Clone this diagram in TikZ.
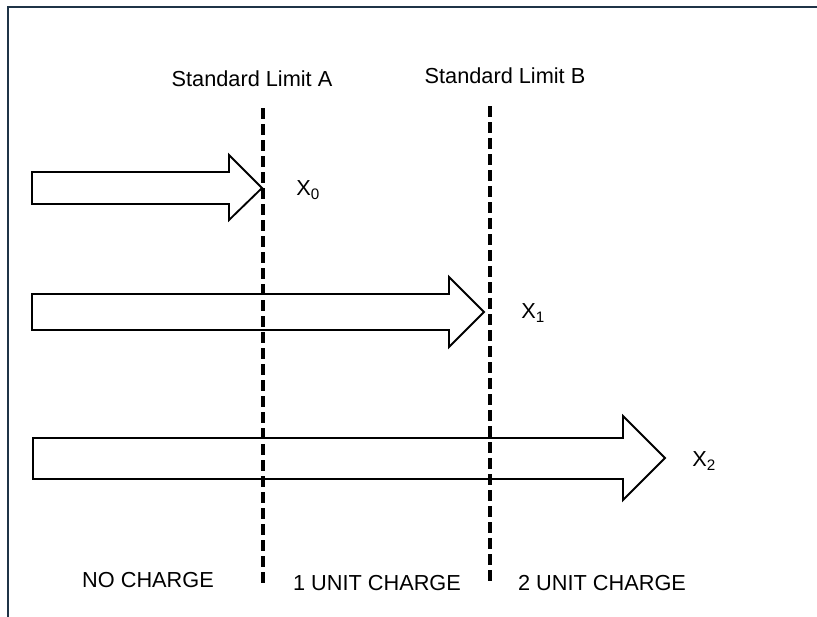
\documentclass[tikz,border=0pt]{standalone}
\usepackage{fontspec}
\setmainfont{Liberation Sans}
\definecolor{framecol}{HTML}{1F3447}
\tikzset{
  lbl/.style={font=\fontsize{16.3}{19}\selectfont, inner sep=0pt, text=black},
  fatarrow/.style={draw=black, line width=1.4pt, fill=white, line join=miter},
  limitline/.style={draw=black, line width=2.8pt, dash pattern=on 8.5pt off 3.5pt},
  framestyle/.style={draw=framecol, line width=1.8pt}
}
\begin{document}
\begin{tikzpicture}[x=0.75pt, y=-0.75pt]
\useasboundingbox (0,0) rectangle (817,617);
% frame (top and left edges)
\draw[framestyle] (8,640) -- (8,7) -- (830,7);
% arrows
\draw[fatarrow] (32,172) -- (229,172) -- (229,155) -- (262,188) -- (229,220) -- (229,204) -- (32,204) -- cycle;
\draw[fatarrow] (32,294) -- (449,294) -- (449,277) -- (484,312) -- (449,347) -- (449,330) -- (32,330) -- cycle;
\draw[fatarrow] (33,438) -- (623,438) -- (623,416) -- (665,458) -- (623,500) -- (623,479) -- (33,479) -- cycle;
% limit lines
\coordinate (atop) at (263,108);
\coordinate (abot) at (263,586);
\coordinate (btop) at (490,106);
\coordinate (bbot) at (490,584);
\draw[limitline] (atop) -- (abot);
\draw[limitline] (btop) -- (bbot);
% labels
\node[lbl] (limA) at (252,79) {Standard Limit A};
\node[lbl] (limB) at (505,76) {Standard Limit B};
\node[lbl, anchor=west] (x0) at (296,190) {X\textsubscript{0}};
\node[lbl, anchor=west] (x1) at (521,313) {X\textsubscript{1}};
\node[lbl, anchor=west] (x2) at (692,461) {X\textsubscript{2}};
\node[lbl] (nc) at (148,580) {NO CHARGE};
\node[lbl] (uc1) at (377,583) {1 UNIT CHARGE};
\node[lbl] (uc2) at (602,583) {2 UNIT CHARGE};
\end{tikzpicture}
\end{document}
